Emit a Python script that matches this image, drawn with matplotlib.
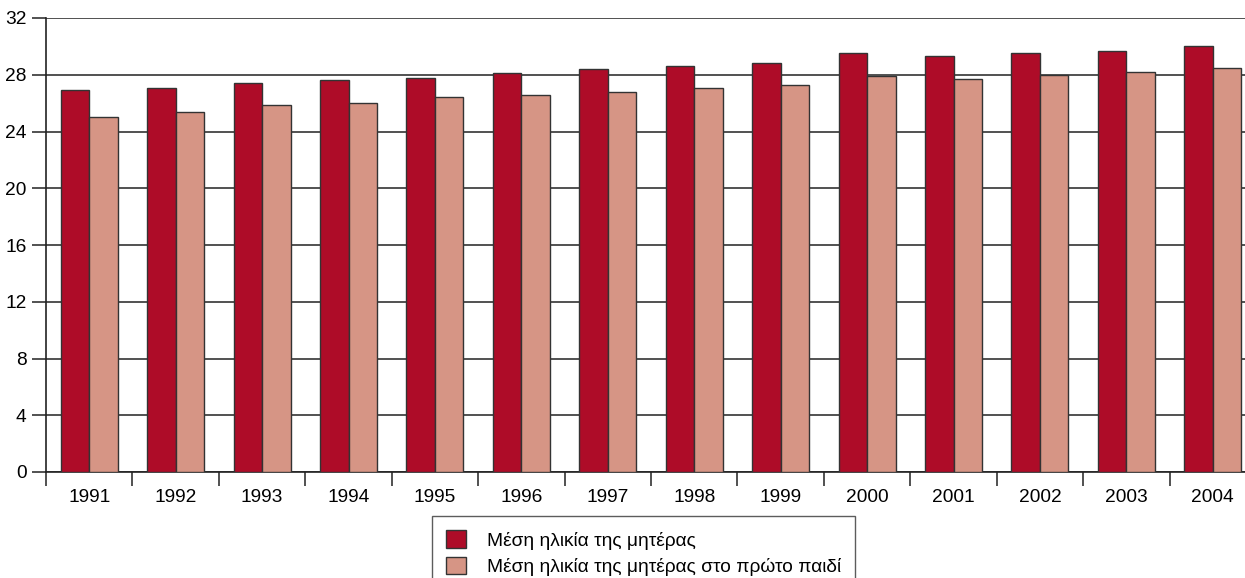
import numpy as np
import matplotlib.pyplot as plt

# Mean age of mother, 1991-2004
years = ['1991', '1992', '1993', '1994', '1995', '1996', '1997',
         '1998', '1999', '2000', '2001', '2002', '2003', '2004']
mean_age_mother = [26.9, 27.1, 27.4, 27.6, 27.8, 28.1, 28.4,
                   28.6, 28.8, 29.5, 29.3, 29.5, 29.7, 30.0]
mean_age_first_child = [25.0, 25.4, 25.9, 26.0, 26.4, 26.6, 26.8,
                        27.1, 27.3, 27.9, 27.7, 28.0, 28.2, 28.5]
series_labels = ['Μέση ηλικία της μητέρας',
                 'Μέση ηλικία της μητέρας στο πρώτο παιδί']

plt.rcParams['font.family'] = ['Liberation Sans', 'DejaVu Sans']
size_font = 13.8
dark_red = '#AE0C28'
light_red = '#D69585'
edge_col = '#333333'

W, H = 1245, 578
fig = plt.figure(figsize=(W / 100, H / 100), dpi=100)
ax = fig.add_axes([46 / W, 1 - 472 / H, (1256 - 46) / W, (472 - 18) / H])

x = np.arange(len(years))
bar_w = 0.33
ax.bar(x - bar_w / 2, mean_age_mother, bar_w, color=dark_red,
       edgecolor=edge_col, linewidth=1, label=series_labels[0], zorder=3)
ax.bar(x + bar_w / 2, mean_age_first_child, bar_w, color=light_red,
       edgecolor=edge_col, linewidth=1, label=series_labels[1], zorder=3)

ax.set_xlim(-0.5, len(years) - 0.5)
ax.set_ylim(0, 32)
ax.set_yticks(np.arange(0, 33, 4))
ax.yaxis.grid(True, color='#333333', linewidth=1.2, zorder=0)
ax.set_axisbelow(True)

# category labels centred, tick marks between groups
ax.set_xticks(x)
ax.set_xticklabels(years)
ax.tick_params(axis='x', which='major', length=0, pad=12, labelsize=size_font)
ax.set_xticks(np.arange(-0.5, len(years), 1), minor=True)
ax.tick_params(axis='x', which='minor', length=10, width=1.2, color='#333333')
ax.tick_params(axis='y', length=10, width=1.2, color='#333333', pad=4,
               labelsize=size_font)

for side in ['top', 'right']:
    ax.spines[side].set_visible(False)
ax.spines['left'].set_linewidth(1.2)
ax.spines['bottom'].set_linewidth(1.2)
ax.spines['left'].set_color('#222222')
ax.spines['bottom'].set_color('#222222')

leg = fig.legend(loc='upper left', bbox_to_anchor=(432 / W, 1 - 516 / H),
                 fontsize=size_font, frameon=True, fancybox=False,
                 edgecolor='#333333', handlelength=1.0, handleheight=1.0,
                 handletextpad=1.1, borderpad=0.75, labelspacing=0.4,
                 borderaxespad=0)
leg.get_frame().set_linewidth(1.0)

plt.savefig('out.png', dpi=100)
